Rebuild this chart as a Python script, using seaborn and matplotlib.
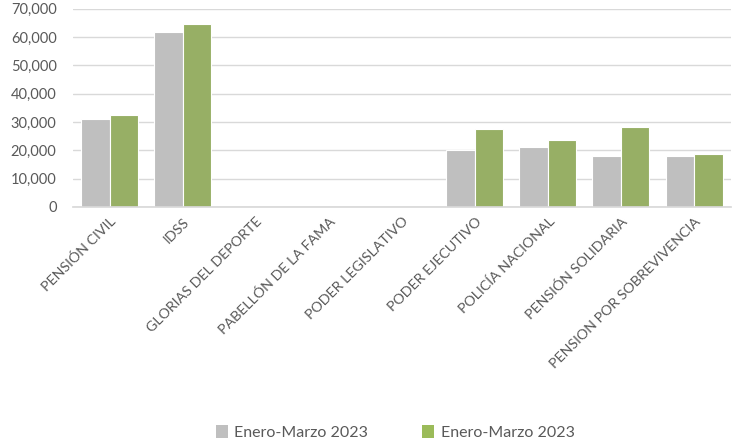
import matplotlib
matplotlib.use("Agg")
import matplotlib.pyplot as plt
import seaborn as sns
import pandas as pd
from matplotlib.ticker import FuncFormatter, MultipleLocator
from matplotlib.patches import Patch

categories = ["PENSIÓN CIVIL", "IDSS", "GLORIAS DEL DEPORTE", "PABELLÓN DE LA FAMA",
              "PODER LEGISLATIVO", "PODER EJECUTIVO", "POLICÍA NACIONAL",
              "PENSIÓN SOLIDARIA", "PENSION POR SOBREVIVENCIA"]
serie_gris = [30900, 61700, 0, 0, 0, 20200, 21000, 18100, 18100]
serie_verde = [32400, 64700, 0, 0, 0, 27400, 23800, 28100, 18800]
series_keys = ["s1", "s2"]
legend_labels = ["Enero-Marzo 2023", "Enero-Marzo 2023"]
colors = ["#BFBFBF", "#9BBB59"]

df = pd.DataFrame({
    "cat": categories * 2,
    "val": serie_gris + serie_verde,
    "serie": [series_keys[0]] * len(categories) + [series_keys[1]] * len(categories),
})

sns.set_theme(style="white")
plt.rcParams["font.family"] = ["Lato", "DejaVu Sans"]

fig = plt.figure(figsize=(7.32, 4.41), dpi=100)
ax = fig.add_axes([0.1, 0.531, 0.898, 0.449])

sns.barplot(data=df, x="cat", y="val", hue="serie", palette=colors,
            order=categories, hue_order=series_keys, width=0.78,
            edgecolor="white", linewidth=0.8, ax=ax, legend=False)

ax.set_ylim(0, 70000)
ax.yaxis.set_major_locator(MultipleLocator(10000))
ax.yaxis.set_major_formatter(FuncFormatter(lambda v, p: f"{int(v):,}"))
ax.grid(axis="y", color="#D9D9D9", linewidth=1)
ax.set_axisbelow(True)
for s in ["top", "right", "left"]:
    ax.spines[s].set_visible(False)
ax.spines["bottom"].set_color("#D9D9D9")
ax.set_xlabel("")
ax.set_ylabel("")
ax.tick_params(axis="y", length=0, pad=12, labelsize=10.5, labelcolor="#595959")
ax.tick_params(axis="x", length=0, pad=6, labelsize=10.3, labelcolor="#595959")
ax.set_xlim(-0.5, len(categories) - 0.5)
for lbl in ax.get_xticklabels():
    lbl.set_rotation(45)
    lbl.set_ha("right")
    lbl.set_rotation_mode("anchor")

handles = [Patch(facecolor=c, edgecolor="none") for c in colors]
fig.legend(handles, legend_labels, loc="center", bbox_to_anchor=(0.54, 0.02),
           ncol=2, frameon=False, fontsize=11.5, handlelength=0.75, handleheight=0.9,
           handletextpad=0.4, columnspacing=3.4, labelcolor="#595959")

fig.savefig("out.png", dpi=100)
